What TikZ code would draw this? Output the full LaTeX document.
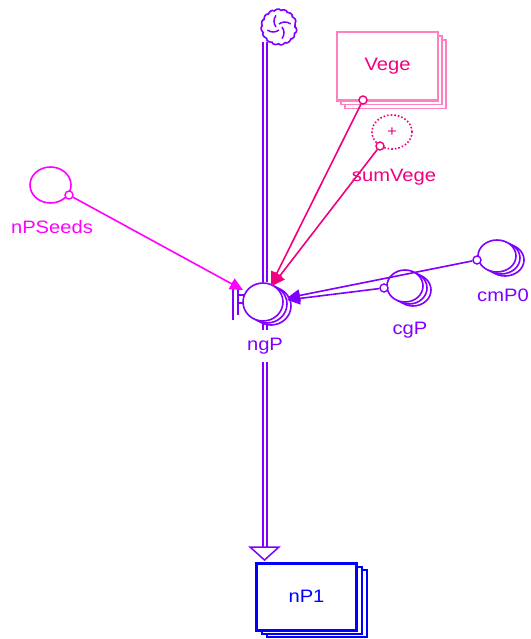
\documentclass[tikz,border=0pt]{standalone}
\usepackage{fontspec}
\setmainfont{Liberation Sans}[FakeStretch=1.12]
\usetikzlibrary{arrows.meta,shapes.geometric,decorations.pathmorphing,calc,backgrounds}
\definecolor{purp}{HTML}{8000FF}
\definecolor{mag}{HTML}{FF00FF}
\definecolor{dpink}{HTML}{F00080}
\definecolor{lpink}{HTML}{FF80C0}
\definecolor{stockblue}{HTML}{0000FF}
\begin{document}
\begin{tikzpicture}[x=1pt,y=-1pt,
  font=\fontsize{18}{20}\selectfont,
  pipe/.style={draw=purp,line width=2pt,double=white,double distance=2.2pt},
  aux/.style={ellipse,draw=#1,line width=1.6pt,fill=white,inner sep=0pt},
  ring/.style={circle,draw=#1,line width=1.4pt,fill=white,minimum size=8pt,inner sep=0pt},
  link/.style={draw=#1,line width=1.6pt,-{Triangle[length=13pt,width=12pt]}},
  lbl/.style={text=#1,anchor=base,inner sep=0pt},
  shadowbox/.style={draw=#1,fill=white}
]
\useasboundingbox (0,0) rectangle (530,639);

% ---------- source cloud ----------
\coordinate (c) at (279,27);
\draw[purp,line width=1.6pt,decorate,decoration={bumps,segment length=12.5pt,amplitude=2.2pt}]
  (c) circle[radius=15.5];
\foreach \a in {0,90,180,270}{
  \draw[purp,line width=1.5pt] ($(c)+(\a:3)$) to[bend left=35] ($(c)+(\a+75:12)$);
}
\coordinate (src) at (265,42);

% ---------- stocks ----------
\foreach \d/\e in {8/8,4/4}
  \draw[shadowbox=lpink,line width=1.8pt] ({337.3+\d},{32.2+\e}) rectangle ({437.8+\d},{100.5+\e});
\node[draw=lpink,line width=2.3pt,fill=white,minimum width=100.5pt,minimum height=68.3pt,
  inner sep=0pt,text=dpink] (Vege) at (387.5,66.3) {\raisebox{-2pt}{Vege}};

\foreach \d/\e in {10/7,5/3.5}
  \draw[shadowbox=stockblue,line width=2pt] ({256.5+\d},{563+\e}) rectangle ({356.5+\d},{630.3+\e});
\node[draw=stockblue,line width=3pt,fill=white,minimum width=100pt,minimum height=67.3pt,
  inner sep=0pt,text=stockblue] (nP1) at (306.5,596.7) {nP1};

% ---------- valve ----------
\foreach \d in {8,4}
  \draw[purp,line width=1.6pt,fill=white] ({263+\d},{302+\d/2}) ellipse[x radius=20,y radius=19];
\node[aux=purp,minimum width=40pt,minimum height=38pt] (valve) at (263,302) {};
\draw[purp,line width=2pt] (233,282) -- (233,320);
\draw[purp,line width=2pt] (238,288) -- (238,315);
\draw[purp,line width=2pt] (238,295) -- (245,295);
\draw[purp,line width=2pt] (238,303) -- (244,303);

% ---------- pipe ----------
\coordinate (pend) at (264.5,547);
\begin{pgfonlayer}{background}
  \draw[pipe] (src) -- (src |- valve.north);
  \draw[pipe] (valve.south -| src) -- (pend -| src);
\end{pgfonlayer}
\draw[purp,line width=1.5pt,fill=white] (250,547) -- (279,547) -- (264.5,560) -- cycle;
\node[lbl=purp,fill=white,inner ysep=8pt,inner xsep=2pt] (ngPl) at (265,350) {ngP};

% ---------- auxiliaries ----------
\node[aux=mag,minimum width=41pt,minimum height=36pt] (nPSeeds) at (50.5,185) {};
\node[lbl=mag] at (52,233) {nPSeeds};

\node[ellipse,draw=dpink,dotted,line width=1.6pt,minimum width=40pt,minimum height=34pt,
  inner sep=0pt,text=dpink,font=\fontsize{15}{15}\selectfont] (sumVege) at (392,132) {+};
\node[lbl=dpink] at (394,182) {sumVege};

\foreach \d in {8,4}
  \draw[purp,line width=1.6pt,fill=white] ({405+\d},{286+\d/2}) ellipse[x radius=18,y radius=16];
\node[aux=purp,minimum width=36pt,minimum height=32pt] (cgP) at (405,286) {};
\node[lbl=purp] at (410,334) {cgP};

\foreach \d in {8,4}
  \draw[purp,line width=1.6pt,fill=white] ({497+\d},{256+\d/2}) ellipse[x radius=19,y radius=16];
\node[aux=purp,minimum width=38pt,minimum height=32pt] (cmP0) at (497,256) {};
\node[lbl=purp] at (503,301) {cmP0};

% ---------- influence rings ----------
\node[ring=mag] (rS) at (69,195) {};
\node[ring=dpink] (rV) at (363,100) {};
\node[ring=dpink] (rSV) at (380,146) {};
\node[ring=purp] (rC) at (384,288) {};
\node[ring=purp] (rM) at (477,260) {};

% ---------- influence targets ----------
\coordinate (tS) at (243,290);
\coordinate (tV) at (271,285);
\coordinate (tSV) at (272,286);
\coordinate (tC) at (287,300);
\coordinate (tM) at (287,298);

\draw[link=mag] (rS) -- (tS);
\draw[link=dpink] (rV) -- (tV);
\draw[link=dpink] (rSV) -- (tSV);
\draw[link=purp] (rC) -- (tC);
\draw[link=purp] (rM) -- (tM);
\end{tikzpicture}
\end{document}
